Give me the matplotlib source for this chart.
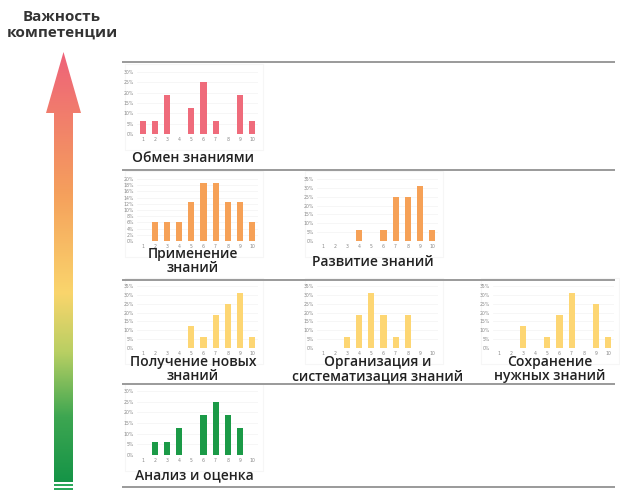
import matplotlib
matplotlib.use("Agg")
import matplotlib.pyplot as plt
import numpy as np
from matplotlib.path import Path
from matplotlib.patches import PathPatch, Rectangle
from matplotlib.colors import LinearSegmentedColormap
from matplotlib.ticker import FuncFormatter

# ---------------- data ----------------
scores = [1, 2, 3, 4, 5, 6, 7, 8, 9, 10]
obmen = [6.25, 6.25, 18.75, 0, 12.5, 25, 6.25, 0, 18.75, 6.25]
primenenie = [0, 6.25, 6.25, 6.25, 12.5, 18.75, 18.75, 12.5, 12.5, 6.25]
razvitie = [0, 0, 0, 6.25, 0, 6.25, 25, 25, 31.25, 6.25]
poluchenie = [0, 0, 0, 0, 12.5, 6.25, 18.75, 25, 31.25, 6.25]
organizacia = [0, 0, 6.25, 18.75, 31.25, 18.75, 6.25, 18.75, 0, 0]
sohranenie = [0, 0, 12.5, 0, 6.25, 18.75, 31.25, 0, 25, 6.25]
analiz = [0, 6.25, 6.25, 12.5, 0, 18.75, 25, 18.75, 12.5, 0]

titles = ["Обмен знаниями", "Применение\nзнаний", "Развитие знаний",
          "Получение новых\nзнаний", "Организация и\nсистематизация знаний",
          "Сохранение\nнужных знаний", "Анализ и оценка"]
series = [obmen, primenenie, razvitie, poluchenie, organizacia, sohranenie, analiz]
y_max = [30, 20, 35, 35, 35, 35, 30]
y_step = [5, 2, 5, 5, 5, 5, 5]
header = "Важность\nкомпетенции"

# ---------------- style / layout ----------------
PINK, ORANGE, YELLOW, GREEN = "#EF6B7B", "#F6A157", "#FDD673", "#1B9A47"
colors = [PINK, ORANGE, ORANGE, YELLOW, YELLOW, YELLOW, GREEN]
# pixel positions: x of tick "1", y of 0% line, y of top tick, title centre x, title centre y
layout = [
    (143, 134, 72, 193, 158),
    (143, 241, 179, 193, 261),
    (323, 241, 179, 373, 262),
    (143, 348, 286, 193, 369),
    (323, 348, 286, 378, 369),
    (499, 348, 286, 550, 369),
    (143, 455, 391, 194, 475),
]
W, H = 620, 493
TITLE_FONT = ["Open Sans", "DejaVu Sans"]

fig = plt.figure(figsize=(W / 100, H / 100), dpi=100)
bg = fig.add_axes([0, 0, 1, 1])
bg.set_xlim(0, W)
bg.set_ylim(H, 0)
bg.axis("off")

# separators
for y in [62, 170, 280, 384, 487]:
    bg.plot([122, 615], [y, y], color="#9a9a9a", lw=1.4, solid_capstyle="butt")

# gradient arrow
cx = 63.5
verts = [(cx - 9.5, 482), (cx - 9.5, 113), (cx - 17.5, 113), (cx, 52),
         (cx + 17.5, 113), (cx + 9.5, 113), (cx + 9.5, 482), (cx - 9.5, 482)]
codes = [Path.MOVETO] + [Path.LINETO] * 6 + [Path.CLOSEPOLY]
arrow = PathPatch(Path(verts, codes), facecolor="none", edgecolor="none")
bg.add_patch(arrow)
cmap = LinearSegmentedColormap.from_list(
    "imp", [(0, "#EE6279"), (0.33, "#F5A05C"), (0.56, "#FAD56C"),
            (0.7, "#B8CF63"), (0.85, "#3DA651"), (1.0, "#159447")])
grad = np.linspace(0, 1, 256).reshape(-1, 1)
im = bg.imshow(grad, extent=(40, 90, 482, 52), cmap=cmap, aspect="auto",
               origin="upper", interpolation="bilinear")
im.set_clip_path(arrow)
for y in [484, 488]:
    bg.add_patch(Rectangle((cx - 9.5, y), 19, 2, facecolor="#2AA85A", edgecolor="none"))

bg.text(62, 25, header, ha="center", va="center", fontsize=11, fontweight="bold",
        color="#333333", linespacing=1.15, family=TITLE_FONT)

pct = FuncFormatter(lambda v, p: f"{v:.0f}%")

for vals, title, ym, ys, col, (x1, y0, yt, tx, ty) in zip(
        series, titles, y_max, y_step, colors, layout):
    unit = 12.1
    left = x1 - unit * 0.5
    width = unit * 10
    # faint chart area frame
    bg.add_patch(Rectangle((x1 - 18, yt - 8), 138, (y0 - yt) + 24,
                           facecolor="none", edgecolor="#f6f6f6", lw=0.8))
    ax = fig.add_axes([left / W, 1 - y0 / H, width / W, (y0 - yt) / H])
    ax.bar(scores, vals, width=0.5, color=col, zorder=3)
    ax.set_xlim(0.5, 10.5)
    ax.set_ylim(0, ym)
    ax.set_yticks(np.arange(0, ym + 0.01, ys))
    ax.yaxis.set_major_formatter(pct)
    ax.set_xticks(scores)
    ax.tick_params(axis="both", length=0, labelsize=3.3, labelcolor="#888888", pad=2)
    ax.grid(axis="y", color="#f3f3f3", lw=0.5, zorder=0)
    for s in ax.spines.values():
        s.set_visible(False)
    ax.patch.set_alpha(0)
    bg.text(tx, ty, title, ha="center", va="center", fontsize=10,
            fontweight="semibold", color="#222222", linespacing=0.98, family=TITLE_FONT)

fig.savefig("out.png", dpi=100)
